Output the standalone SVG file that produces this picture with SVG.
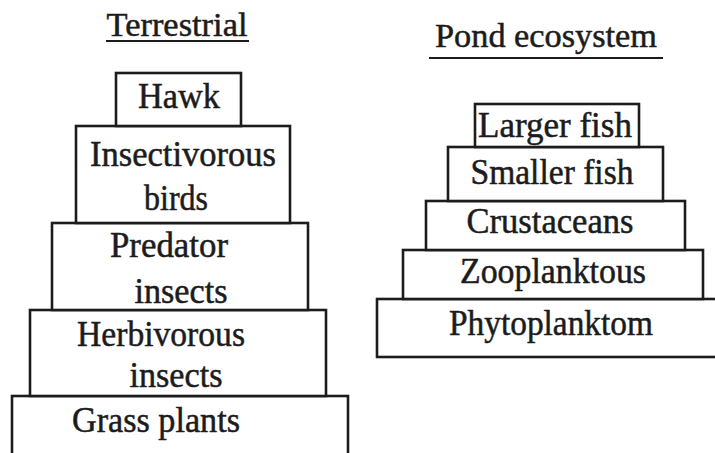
<svg xmlns="http://www.w3.org/2000/svg" width="715" height="453" viewBox="0 0 715 453">
<style>
.box{fill:#fff;stroke:#1c1c1c;stroke-width:2.6}
.t{font-family:"Liberation Serif","Times New Roman",serif;font-size:35px;fill:#1c1c1c;stroke:#1c1c1c;stroke-width:0.5;text-anchor:middle}
.h{font-size:34px}
.ul{stroke:#1c1c1c;stroke-width:2.2}
</style>
<rect width="715" height="453" fill="#fff"/>
<g id="title-terrestrial">
<text class="t h" x="177" y="36" textLength="141" lengthAdjust="spacingAndGlyphs">Terrestrial</text>
<line class="ul" x1="106" y1="41" x2="249" y2="41"/>
</g>
<g id="title-pond">
<text class="t h" x="546" y="47" textLength="222" lengthAdjust="spacingAndGlyphs">Pond ecosystem</text>
<line class="ul" x1="429" y1="58" x2="663" y2="58"/>
</g>
<g id="grass-plants">
<rect class="box" x="12" y="396" width="336" height="70"/>
<text class="t" x="156" y="432" textLength="168" lengthAdjust="spacingAndGlyphs">Grass plants</text>
</g>
<g id="herbivorous-insects">
<rect class="box" x="30" y="310" width="296" height="86"/>
<text class="t" x="161" y="346" textLength="168" lengthAdjust="spacingAndGlyphs">Herbivorous</text>
<text class="t" x="176" y="387" textLength="93" lengthAdjust="spacingAndGlyphs">insects</text>
</g>
<g id="predator-insects">
<rect class="box" x="52" y="223" width="256" height="87"/>
<text class="t" x="169" y="257" textLength="118" lengthAdjust="spacingAndGlyphs">Predator</text>
<text class="t" x="181" y="303" textLength="93" lengthAdjust="spacingAndGlyphs">insects</text>
</g>
<g id="insectivorous-birds">
<rect class="box" x="76" y="126" width="214" height="97"/>
<text class="t" x="183" y="166" textLength="186" lengthAdjust="spacingAndGlyphs">Insectivorous</text>
<text class="t" x="176" y="210" textLength="64" lengthAdjust="spacingAndGlyphs">birds</text>
</g>
<g id="hawk">
<rect class="box" x="116" y="73" width="125" height="53"/>
<text class="t" x="179" y="108" textLength="82" lengthAdjust="spacingAndGlyphs">Hawk</text>
</g>
<g id="phytoplanktom">
<rect class="box" x="377" y="299" width="350" height="58"/>
<text class="t" x="551" y="335" textLength="204" lengthAdjust="spacingAndGlyphs">Phytoplanktom</text>
</g>
<g id="zooplanktous">
<rect class="box" x="403" y="250" width="300" height="49"/>
<text class="t" x="553" y="283" textLength="186" lengthAdjust="spacingAndGlyphs">Zooplanktous</text>
</g>
<g id="crustaceans">
<rect class="box" x="426" y="201" width="259" height="49"/>
<text class="t" x="550" y="233" textLength="167" lengthAdjust="spacingAndGlyphs">Crustaceans</text>
</g>
<g id="smaller-fish">
<rect class="box" x="448" y="147" width="215" height="54"/>
<text class="t" x="552" y="184" textLength="163" lengthAdjust="spacingAndGlyphs">Smaller fish</text>
</g>
<g id="larger-fish">
<rect class="box" x="475" y="104" width="164" height="43"/>
<text class="t" x="555" y="137" textLength="154" lengthAdjust="spacingAndGlyphs">Larger fish</text>
</g>
<g id="connectors"></g>
</svg>
